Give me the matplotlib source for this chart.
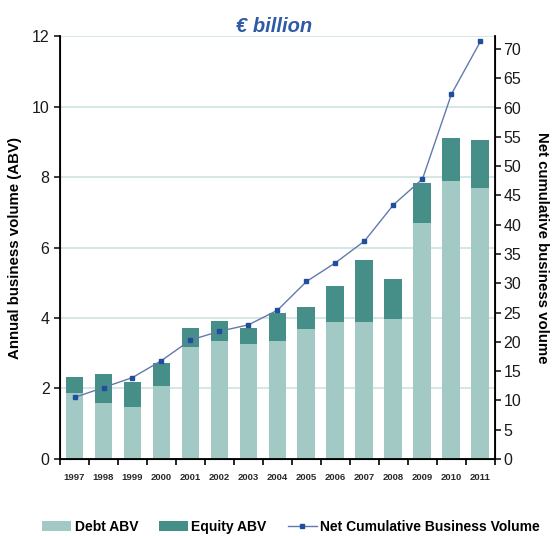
import numpy as np
import matplotlib
matplotlib.use('Agg')
import matplotlib.pyplot as plt
from matplotlib.ticker import FixedLocator

# Data (EUR billion)
years = ['1997', '1998', '1999', '2000', '2001', '2002', '2003', '2004',
         '2005', '2006', '2007', '2008', '2009', '2010', '2011']
debt = [1.87, 1.59, 1.48, 2.08, 3.18, 3.35, 3.26, 3.35,
        3.68, 3.89, 3.89, 3.96, 6.70, 7.89, 7.68]
total = [2.33, 2.40, 2.19, 2.73, 3.71, 3.91, 3.71, 4.13,
         4.32, 4.91, 5.65, 5.10, 7.84, 9.12, 9.06]
cumulative = [10.5, 12.2, 13.9, 16.8, 20.3, 21.8, 22.9, 25.4,
              30.3, 33.5, 37.2, 43.4, 47.8, 62.3, 71.3]

equity = [t - d for t, d in zip(total, debt)]

plt.rcParams['font.family'] = ['Liberation Sans', 'DejaVu Sans']

fig = plt.figure(figsize=(5.52, 5.36), dpi=100)
ax = fig.add_axes([0.1087, 0.1437, 0.788, 0.789])
ax2 = ax.twinx()

x = np.arange(len(years))

# Stacked bars
ax.bar(x, debt, width=0.62, color='#a3c9c5', label='Debt ABV', zorder=2)
ax.bar(x, equity, width=0.62, bottom=debt, color='#468f88', label='Equity ABV', zorder=2)

ax.set_xlim(-0.5, len(years) - 0.5)
ax.set_ylim(0, 12)
ax.set_yticks(range(0, 13, 2))
ax.yaxis.grid(True, color='#d6e8e6', linewidth=1.5, zorder=0)
ax.set_axisbelow(True)

# year labels centred on bars, tick marks between the bars
ax.set_xticks(x)
ax.set_xticklabels(years, fontsize=6.8, fontweight='bold', color='#2a2a2a')
ax.tick_params(axis='x', which='major', length=0, pad=10)
ax.xaxis.set_minor_locator(FixedLocator(np.arange(-0.5, len(years), 1.0)))
ax.tick_params(axis='x', which='minor', length=4, width=1.2, direction='out')
ax.tick_params(axis='y', labelsize=11.5, length=4, width=1.2, colors='#1a1a1a')

for s in ['top']:
    ax.spines[s].set_visible(False)
    ax2.spines[s].set_visible(False)
ax.spines['left'].set_linewidth(1.3)
ax.spines['bottom'].set_linewidth(1.3)
ax2.spines['right'].set_linewidth(1.3)

ax.set_ylabel('Annual business volume (ABV)', fontsize=10.8, fontweight='bold', labelpad=7)

# Cumulative line on the right axis
ax2.plot(x, cumulative, color='#6479ab', linewidth=1.0, marker='s', markersize=3.2,
         markerfacecolor='#1f4f9c', markeredgecolor='#1f4f9c',
         label='Net Cumulative Business Volume', zorder=3)
ax2.set_ylim(0, 72.2)
ax2.set_yticks(range(0, 71, 5))
ax2.tick_params(axis='y', labelsize=11.5, length=4, width=1.2, pad=2, colors='#1a1a1a')
ax2.set_ylabel('Net cumulative business volume', fontsize=10.8, fontweight='bold',
               rotation=270, labelpad=20)

fig.text(0.497, 0.951, '\u20ac billion', ha='center', va='center', fontsize=14.5,
         fontstyle='italic', fontweight='bold', color='#2f5aa6')

h1, l1 = ax.get_legend_handles_labels()
h2, l2 = ax2.get_legend_handles_labels()
fig.legend(h1 + h2, l1 + l2, loc='center', bbox_to_anchor=(0.527, 0.017),
           ncol=3, frameon=False, handlelength=2.1, handletextpad=0.25,
           columnspacing=1.5, borderpad=0.2, prop={'weight': 'bold', 'size': 10.0})

fig.savefig('out.png', dpi=100)
